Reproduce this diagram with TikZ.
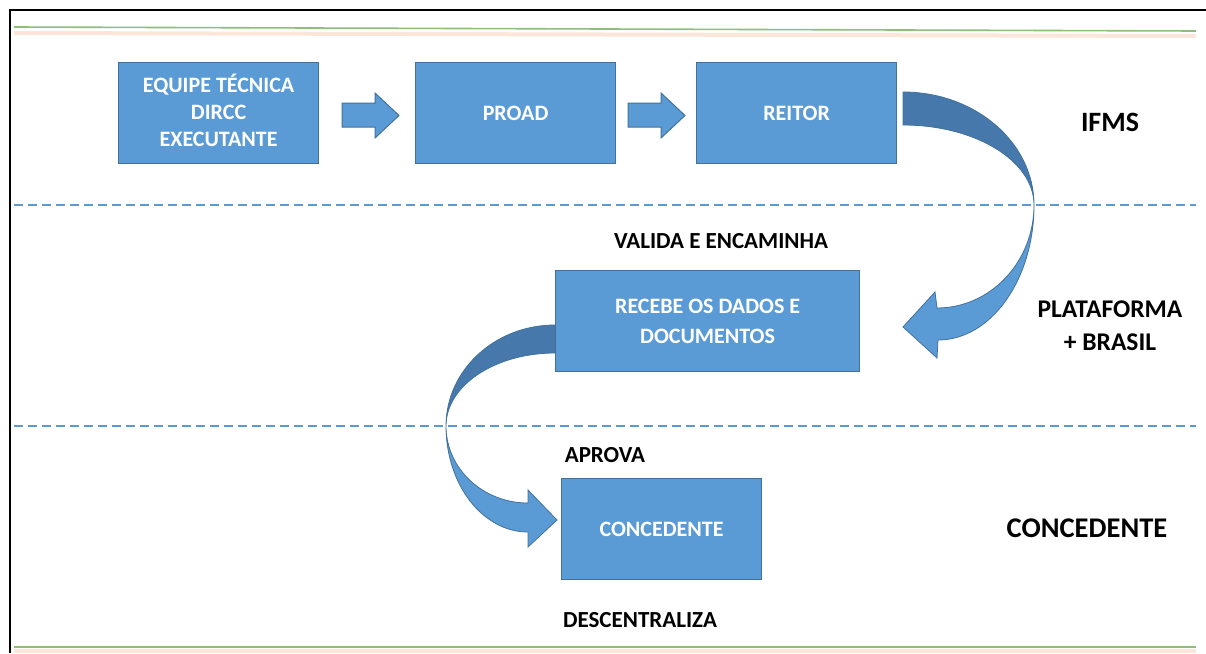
\documentclass[tikz,border=0pt]{standalone}
\usepackage{fontspec}
\setmainfont{Carlito}
\usetikzlibrary{calc}
\definecolor{boxblue}{HTML}{5B9BD5}
\definecolor{edgeblue}{HTML}{41719C}
\definecolor{darkband}{HTML}{4678AB}
\definecolor{greenline}{HTML}{8DBF7A}
\definecolor{orangeband}{HTML}{FCE6DA}
\begin{document}
\begin{tikzpicture}[x=1pt,y=1pt,
  box/.style={draw=edgeblue, line width=1.2pt, fill=boxblue, text=white,
    font=\bfseries\fontsize{22}{27}\selectfont, align=center, inner sep=0pt,
    anchor=north west, minimum width=200, minimum height=101},
  boxtext/.style={text=white, font=\bfseries\fontsize{22}{27}\selectfont, align=center, inner sep=0pt},
  lbl/.style={text=black, font=\bfseries\fontsize{23}{32}\selectfont, align=center, inner sep=0pt},
  big/.style={text=black, font=\bfseries\fontsize{28}{30}\selectfont, inner sep=0pt},
  blockarrow/.style={fill=boxblue, draw=edgeblue, line width=1pt, line join=miter},
  band/.style={draw=edgeblue, line width=0.8pt, line join=miter},
  sep/.style={draw=boxblue, line width=2.2pt, dash pattern=on 9pt off 5pt}]
\useasboundingbox (0,0) rectangle (1206,-653);
% frame and decorative lines
\draw[line width=2pt] (10,-653) -- (10,-10) -- (1206,-10);
\draw[orangeband, line width=4pt] (14,-33) -- (1196,-36);
\draw[greenline, line width=1.6pt] (14,-27) -- (1196,-31);
\draw[orangeband, line width=4pt] (14,-651) -- (1196,-651);
\draw[greenline, line width=1.6pt] (14,-647) -- (1196,-647);
% separators
\draw[sep] (14,-205) -- (1196,-205);
\draw[sep] (14,-426) -- (1196,-426);
% boxes
\node[box, label={[boxtext, yshift=3]center:EQUIPE TÉCNICA\\DIRCC\\EXECUTANTE}] (equipe) at (118,-62) {};
\node[box] (proad) at (415,-62) {PROAD};
\node[box] (reitor) at (696,-62) {REITOR};
\node[box, minimum width=304, font=\bfseries\fontsize{22}{30}\selectfont] (recebe) at (555,-270) {RECEBE OS DADOS E\\DOCUMENTOS};
\node[box] (conc) at (561,-478) {CONCEDENTE};
% straight block arrows
\draw[blockarrow] (342,-103) -- (375,-103) -- (375,-93) -- (399,-115.5) -- (375,-138) -- (375,-127) -- (342,-127) -- cycle;
\draw[blockarrow] (628,-103) -- (661,-103) -- (661,-93) -- (685,-115.5) -- (661,-138) -- (661,-127) -- (628,-127) -- cycle;
% curved arrow 1 (REITOR -> RECEBE)
\draw[band, fill=darkband] (903,-92) arc[start angle=90, end angle=0, x radius=131, y radius=113]
  arc[start angle=0, end angle=90, x radius=131, y radius=80] -- cycle;
\draw[band, fill=boxblue] (1034,-205) arc[start angle=0, end angle=-90, x radius=96, y radius=135]
  -- (937,-358) -- (903,-327) -- (935,-292) -- (937,-308)
  arc[start angle=-90, end angle=0, x radius=97, y radius=103] -- cycle;
% curved arrow 2 (RECEBE -> CONCEDENTE)
\draw[band, fill=darkband] (555,-325) arc[start angle=90, end angle=180, x radius=109, y radius=101]
  arc[start angle=180, end angle=90, x radius=109, y radius=73] -- cycle;
\draw[band, fill=boxblue] (446,-426) arc[start angle=180, end angle=270, x radius=82, y radius=106]
  -- (528,-547) -- (557,-520) -- (528,-490) -- (528,-503)
  arc[start angle=270, end angle=180, x radius=82, y radius=77] -- cycle;
% labels
\node[big] (ifms) at (1110,-122) {IFMS};
\node[big, font=\bfseries\fontsize{28.5}{30}\selectfont] (concl) at (1087,-528) {CONCEDENTE};
\node[lbl] (valida) at (721,-241) {VALIDA E ENCAMINHA};
\node[lbl, font=\bfseries\fontsize{25.5}{33}\selectfont] (plat) at (1110,-326) {PLATAFORMA\\+ BRASIL};
\node[lbl] (aprova) at (605,-455) {APROVA};
\node[lbl] (desc) at (640,-620) {DESCENTRALIZA};
\end{tikzpicture}
\end{document}
